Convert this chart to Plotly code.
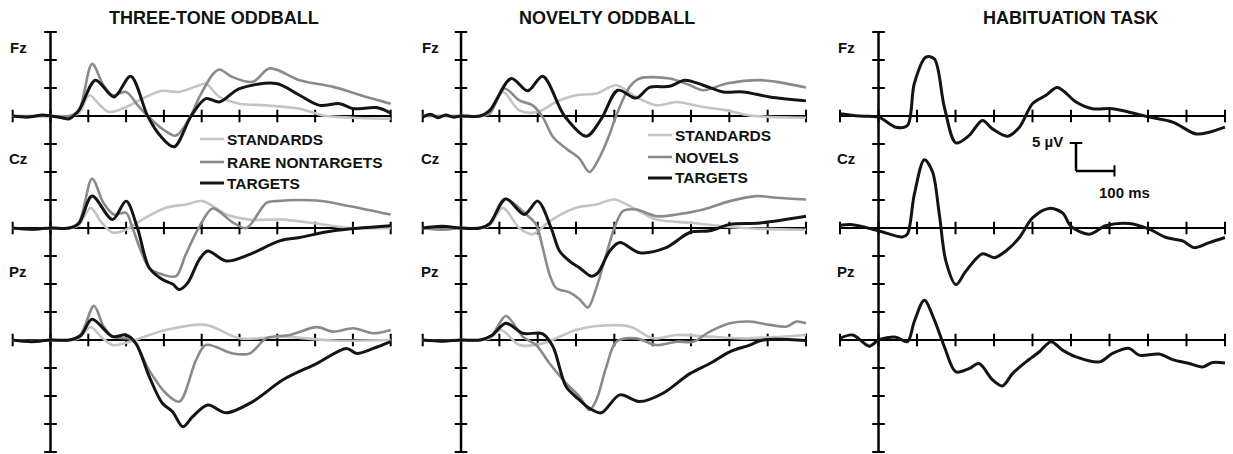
import plotly.graph_objects as go

# ---------------- data (µV, negative-up convention; time in ms) ----------------
PANEL_TITLES = ["THREE-TONE ODDBALL", "NOVELTY ODDBALL", "HABITUATION TASK"]
ELECTRODES = ["Fz", "Cz", "Pz"]
LEGEND_1 = ["STANDARDS", "RARE NONTARGETS", "TARGETS"]
LEGEND_2 = ["STANDARDS", "NOVELS", "TARGETS"]
X_TICKS = [-100, 0, 100, 200, 300, 400, 500, 600, 700, 800, 900]
Y_TICKS = [-15, -10, -5, 0, 5, 10, 15, 20, 25, 30, 35, 40, 45, 50, 55, 60]

# Three-tone oddball
tt_fz_std_t = [-100, -50, 0, 50, 75, 103, 130, 155, 200, 252, 296, 340, 394, 411, 447, 500, 570, 659, 721, 800, 900]
tt_fz_std_v = [0, 0.1, 0, 0, -0.5, -3.7, -2, -0.7, -1.6, -3.4, -4.5, -4.3, -5.5, -5.8, -3.4, -2.2, -1.9, -1.3, -0.1, 0.3, 0.5]
tt_fz_rare_t = [-100, -50, 0, 50, 75, 110, 140, 164, 200, 230, 257, 300, 332, 367, 394, 430, 447, 480, 535, 580, 659, 748, 836, 900]
tt_fz_rare_v = [0, 0, 0, 0, -1, -9.3, -5.5, -3.7, -4.3, -2, 0, 2.5, 3.5, 0.5, -3.4, -7.5, -8.3, -7.0, -6.1, -8.5, -6.4, -5.2, -3.4, -2.2]
tt_fz_tgt_t = [-100, -60, -20, 0, 30, 49, 75, 119, 168, 212, 257, 290, 327, 372, 411, 447, 500, 597, 659, 712, 765, 801, 863, 900]
tt_fz_tgt_v = [0, 0.2, -0.2, 0, 0.3, 0.5, -1, -6.4, -3.4, -7.1, 0, 3.5, 5.5, 0, -3.1, -2.5, -4.9, -5.8, -3.7, -1.9, -2.2, -1.3, -1.5, -0.5]

tt_cz_std_t = [-100, -50, 0, 50, 75, 106, 135, 164, 200, 235, 305, 358, 403, 465, 527, 615, 704, 792, 900]
tt_cz_std_v = [0, 0.3, 0, 0, -0.5, -3.6, -1, 0.8, 0.3, -1.2, -3.6, -4.2, -4.8, -2.4, -1.5, -1.5, -0.8, 0, 0]
tt_cz_rare_t = [-100, -50, 0, 50, 75, 110, 140, 168, 200, 217, 261, 296, 332, 358, 392, 429, 482, 518, 571, 597, 704, 792, 900]
tt_cz_rare_v = [0, 0.3, 0, 0, -1, -8.8, -4.5, -2.4, -2.7, 0, 7.1, 8.3, 8.6, 4.7, 0, -3.5, -1, 0, -4.5, -4.8, -4.9, -3.9, -2.4]
tt_cz_tgt_t = [-100, -50, 0, 50, 75, 110, 164, 200, 230, 261, 296, 323, 341, 363, 394, 416, 465, 527, 606, 659, 748, 900]
tt_cz_tgt_v = [0, 0.2, 0, 0, -0.8, -5.7, -1.5, -4.8, 0, 7.1, 9.2, 10, 11, 9.8, 5.6, 4.1, 5.9, 4.7, 2.3, 1.7, 0.5, -0.4]

tt_pz_std_t = [-100, -50, 0, 50, 75, 106, 135, 164, 200, 305, 411, 500, 615, 748, 900]
tt_pz_std_v = [0, 0.2, 0, 0, -0.3, -2.3, -0.5, 0.9, 0.5, -1.8, -2.7, -0.3, -0.6, 0.1, 0]
tt_pz_rare_t = [-100, -50, 0, 50, 80, 115, 140, 164, 217, 261, 305, 341, 385, 411, 482, 527, 571, 633, 704, 748, 801, 854, 900]
tt_pz_rare_v = [0, 0.3, 0, 0, -1, -6.1, -2.5, -0.6, 0, 5.4, 9.5, 11, 3.6, 0.9, 2.4, 2.4, -0.3, -0.9, -2.3, -1.5, -2.1, -1.2, -1.8]
tt_pz_tgt_t = [-100, -50, 0, 50, 80, 110, 164, 200, 226, 261, 296, 323, 350, 376, 416, 465, 535, 615, 704, 783, 810, 854, 900]
tt_pz_tgt_v = [0, 0.3, 0, 0, -0.8, -3.7, -0.6, -0.9, 0.6, 6.5, 11.3, 12.8, 15.5, 13.7, 11.6, 13, 11, 7.1, 4.2, 1.5, 2.4, 1.5, 0.3]

# Novelty oddball
no_fz_std_t = [-100, -50, 0, 50, 75, 109, 152, 200, 248, 300, 353, 405, 457, 510, 562, 632, 693, 753, 900]
no_fz_std_v = [0, 0, 0, 0, -0.5, -4.3, -1, -0.7, -2.5, -3.7, -4, -5.5, -3.4, -1.9, -2.5, -1.6, -1, -0.1, 0.3]
no_fz_nov_t = [-100, -50, 0, 50, 75, 113, 152, 187, 213, 240, 274, 309, 335, 362, 388, 405, 440, 466, 544, 597, 632, 693, 780, 823, 900]
no_fz_nov_v = [0, 0, 0, 0, -0.5, -4.9, -2.8, -1.9, 0.2, 3.75, 5.8, 7.6, 10, 7.3, 3.2, -0.1, -5.2, -6.7, -6.7, -5.5, -4.6, -5.8, -6.4, -6.1, -5.1]
no_fz_tgt_t = [-100, -80, -60, -40, -20, 0, 50, 75, 131, 174, 213, 270, 327, 366, 409, 457, 492, 544, 584, 632, 684, 736, 806, 900]
no_fz_tgt_v = [0.2, -0.3, 0.3, -0.2, 0.2, 0, 0, -1, -6.7, -4.5, -7.1, 0, 3.6, 0.5, -4.6, -3.2, -5.1, -5.3, -6.4, -5.5, -4.3, -4.3, -3.4, -2.7]

no_cz_std_t = [-100, -50, 0, 50, 75, 109, 152, 187, 231, 300, 353, 400, 457, 510, 605, 736, 900]
no_cz_std_v = [0, 0.3, 0, 0, -0.5, -3.6, 0, 1.1, -1.2, -3.6, -4.2, -5.1, -3.3, -1.5, -0.9, 0, 0.3]
no_cz_nov_t = [-100, -50, 0, 50, 75, 113, 170, 196, 213, 231, 248, 283, 309, 331, 353, 379, 400, 422, 457, 510, 562, 632, 701, 771, 823, 900]
no_cz_nov_v = [0, 0.3, 0, 0, -0.8, -5.2, -2.4, -0.6, 3.5, 8.3, 10.7, 11.5, 12.7, 14.2, 10.7, 4.7, 0, -3, -3.3, -2.1, -2.4, -3.3, -4.8, -5.7, -5.4, -5.1]
no_cz_tgt_t = [-100, -50, 0, 50, 75, 117, 165, 200, 235, 257, 283, 309, 340, 357, 388, 414, 466, 535, 597, 649, 701, 780, 900]
no_cz_tgt_v = [0, -0.3, 0, 0, -0.8, -5.2, -2.4, -4.8, 0, 4.1, 5.9, 7.1, 8.6, 8, 4.1, 2.6, 4.4, 3.5, 0.8, 0.5, -0.65, -0.9, -2.1]

no_pz_std_t = [-100, -50, 0, 50, 75, 105, 152, 213, 300, 353, 440, 501, 562, 649, 736, 900]
no_pz_std_v = [0, 0.2, 0, 0, -0.3, -1.8, 0.9, 0.6, -1.8, -2.5, -2.4, -0.3, -0.9, -0.6, -0.3, -0.9]
no_pz_nov_t = [-100, -50, 0, 50, 80, 117, 161, 196, 231, 274, 309, 335, 353, 379, 405, 457, 510, 562, 606, 649, 701, 753, 806, 850, 875, 900]
no_pz_nov_v = [0, 0.2, 0, 0, -0.8, -4.3, -0.6, 0.9, 4.2, 7.7, 10.1, 12.5, 10.7, 4.8, 0.3, -0.3, 0.9, 0.3, 0.3, -1.5, -3, -3.3, -2.7, -2.4, -3.3, -3]
no_pz_tgt_t = [-100, -50, 0, 50, 80, 117, 161, 213, 240, 274, 309, 335, 366, 414, 466, 527, 597, 649, 701, 753, 788, 900]
no_pz_tgt_v = [0, 0.2, 0, 0, -0.8, -3, -1.2, -1.1, 1.2, 8.3, 10.7, 12.2, 13, 9.8, 11, 9.5, 6, 4.2, 2.1, 0.9, 0, 0.1]

# Habituation task
hb_fz_t = [-100, -50, 0, 45, 75, 93, 123, 145, 171, 201, 235, 270, 296, 335, 366, 400, 435, 465, 513, 556, 608, 668, 703, 764, 825, 859, 900]
hb_fz_v = [-0.4, 0, 0.2, 2, 1.7, -5.8, -10.5, -10.2, -1.6, 4.8, 3.5, 0.8, 2.3, 3.6, 2, -2.2, -3.7, -5.1, -2.5, -1.3, -1.3, -0.4, 0.2, 1.1, 3.2, 2.9, 2]
hb_cz_t = [-100, -67, 0, 62, 75, 93, 119, 140, 158, 175, 201, 227, 270, 301, 331, 366, 400, 443, 478, 500, 547, 590, 651, 703, 747, 790, 820, 859, 900]
hb_cz_v = [-0.5, -0.6, 0.5, 1.6, 1.1, -6, -12.2, -10.1, -2.4, 5.9, 10.1, 7.7, 4.6, 5.3, 4.1, 1.7, -1.8, -3.5, -2.7, -0.3, 1.1, -0.4, -0.8, 0.2, 1.7, 2.3, 3.5, 2.6, 1.7]
hb_pz_t = [-100, -67, -24, 0, 45, 75, 93, 119, 145, 171, 201, 235, 261, 296, 322, 348, 383, 418, 448, 478, 513, 574, 608, 651, 677, 729, 764, 807, 842, 868, 900]
hb_pz_v = [-0.3, -0.9, 1.1, 0, -0.5, 0.3, -3.3, -7.1, -3.6, 1.2, 5.7, 5.1, 4.2, 7.1, 8.2, 6, 3.9, 2.1, 0.3, 1.8, 3, 3.9, 2.4, 1.5, 2.7, 2.5, 3.5, 4.2, 4.8, 4, 4.1]

SCALE_UV = 5
SCALE_MS = 100

# ---------------- styling / layout ----------------
W, H = 1233, 454
FONT = "Liberation Sans, Arial, sans-serif"
C_STD, C_DEV, C_TGT = "#c4c4c4", "#8a8a8a", "#141414"
ROW_STEP = 20  # µV between electrode baselines (4 ticks)
X_PX = [(10.8, 392.6), (420.8, 807.9), (838.1, 1226.9)]
Y_RANGE = [60.3, -15.5]
Y_DOM = [0.3 / H, 1 - 29.2 / H]

fig = go.Figure()
xa = ["x", "x2", "x3"]

# axis cross ticks and baselines
for c in range(3):
    for r in range(3):
        off = r * ROW_STEP
        fig.add_shape(type="line", xref=xa[c], yref="y", x0=X_TICKS[0], x1=X_TICKS[-1],
                      y0=off, y1=off, line=dict(color="#000", width=2), layer="below")
        fig.add_trace(go.Scatter(x=X_TICKS, y=[off] * len(X_TICKS), xaxis=xa[c], yaxis="y",
                                 mode="markers", hoverinfo="skip", cliponaxis=False,
                                 marker=dict(symbol="line-ns", size=9,
                                             line=dict(color="#000", width=2))))
    fig.add_shape(type="line", xref=xa[c], yref="y", x0=0, x1=0, y0=Y_TICKS[0], y1=Y_TICKS[-1],
                  line=dict(color="#000", width=2.5), layer="below")
    fig.add_trace(go.Scatter(x=[0] * len(Y_TICKS), y=Y_TICKS, xaxis=xa[c], yaxis="y",
                             mode="markers", hoverinfo="skip", cliponaxis=False,
                             marker=dict(symbol="line-ew", size=9,
                                         line=dict(color="#000", width=2))))

def wave(t, v, row, col, color, width):
    fig.add_trace(go.Scatter(x=t, y=[row * ROW_STEP + a for a in v], xaxis=xa[col], yaxis="y",
                             mode="lines", line=dict(color=color, width=width, shape="spline",
                                                     smoothing=0.9),
                             hoverinfo="skip"))

series = [
    (0, 0, [(tt_fz_std_t, tt_fz_std_v), (tt_fz_rare_t, tt_fz_rare_v), (tt_fz_tgt_t, tt_fz_tgt_v)]),
    (1, 0, [(tt_cz_std_t, tt_cz_std_v), (tt_cz_rare_t, tt_cz_rare_v), (tt_cz_tgt_t, tt_cz_tgt_v)]),
    (2, 0, [(tt_pz_std_t, tt_pz_std_v), (tt_pz_rare_t, tt_pz_rare_v), (tt_pz_tgt_t, tt_pz_tgt_v)]),
    (0, 1, [(no_fz_std_t, no_fz_std_v), (no_fz_nov_t, no_fz_nov_v), (no_fz_tgt_t, no_fz_tgt_v)]),
    (1, 1, [(no_cz_std_t, no_cz_std_v), (no_cz_nov_t, no_cz_nov_v), (no_cz_tgt_t, no_cz_tgt_v)]),
    (2, 1, [(no_pz_std_t, no_pz_std_v), (no_pz_nov_t, no_pz_nov_v), (no_pz_tgt_t, no_pz_tgt_v)]),
]
styles = [(C_STD, 2.6), (C_DEV, 2.6), (C_TGT, 3.0)]
for k in range(3):
    for row, col, lst in series:
        t, v = lst[k]
        wave(t, v, row, col, *styles[k])
for row, (t, v) in enumerate([(hb_fz_t, hb_fz_v), (hb_cz_t, hb_cz_v), (hb_pz_t, hb_pz_v)]):
    wave(t, v, row, 2, C_TGT, 3.0)

# layout axes
layout_axes = {}
for c in range(3):
    name = "xaxis" if c == 0 else f"xaxis{c + 1}"
    layout_axes[name] = dict(domain=[X_PX[c][0] / W, X_PX[c][1] / W], range=[-105, 905],
                             visible=False, anchor="y", fixedrange=True)
fig.update_layout(**layout_axes)
fig.update_layout(yaxis=dict(domain=Y_DOM, range=Y_RANGE, visible=False, fixedrange=True))

def px(x, y):
    return x / W, 1 - y / H

ann = []
# titles
for cx, title in zip([214, 607, 1070], PANEL_TITLES):
    x, y = px(cx, 18)
    ann.append(dict(x=x, y=y, xref="paper", yref="paper", text=f"<b>{title}</b>", showarrow=False,
                    xanchor="center", yanchor="middle", font=dict(size=18, color="#111", family=FONT)))
# electrode labels
for cx in [18, 430, 846]:
    for ry, lab in zip([47, 159, 271], ELECTRODES):
        x, y = px(cx, ry)
        ann.append(dict(x=x, y=y, xref="paper", yref="paper", text=f"<b>{lab}</b>", showarrow=False,
                        xanchor="center", yanchor="middle", font=dict(size=15, color="#111", family=FONT)))
# legends
for (lx0, lx1, tx, ys, labels) in [(200, 224, 225, [139, 162, 183], LEGEND_1),
                                    (648, 672, 673, [135, 157, 178], LEGEND_2)]:
    for yy, lab, (colr, wd) in zip(ys, labels, styles):
        x0, y0 = px(lx0, yy)
        x1, _ = px(lx1, yy)
        fig.add_shape(type="line", xref="paper", yref="paper", x0=x0, x1=x1, y0=y0, y1=y0,
                      line=dict(color=colr, width=wd))
        xt, _ = px(tx, yy)
        ann.append(dict(x=xt, y=y0, xref="paper", yref="paper", text=f"<b>{lab}</b>", showarrow=False,
                        xanchor="left", yanchor="middle", font=dict(size=15.5, color="#111", family=FONT)))

# scale bar (habituation panel, data coordinates)
sb_x, sb_y = 513, 4.8
fig.add_shape(type="line", xref="x3", yref="y", x0=sb_x, x1=sb_x, y0=sb_y, y1=sb_y + SCALE_UV,
              line=dict(color="#000", width=2.5))
fig.add_shape(type="line", xref="x3", yref="y", x0=sb_x, x1=sb_x + SCALE_MS, y0=sb_y + SCALE_UV,
              y1=sb_y + SCALE_UV, line=dict(color="#000", width=2.5))
fig.add_trace(go.Scatter(x=[sb_x], y=[sb_y], xaxis="x3", yaxis="y", mode="markers", hoverinfo="skip",
                         marker=dict(symbol="line-ew", size=9, line=dict(color="#000", width=2))))
fig.add_trace(go.Scatter(x=[sb_x + SCALE_MS], y=[sb_y + SCALE_UV], xaxis="x3", yaxis="y", mode="markers",
                         hoverinfo="skip", marker=dict(symbol="line-ns", size=8, line=dict(color="#000", width=2))))
ann.append(dict(x=sb_x - 28, y=sb_y - 0.2, xref="x3", yref="y", text=f"<b>{SCALE_UV} µV</b>", showarrow=False,
                xanchor="right", yanchor="middle", font=dict(size=15, color="#111", family=FONT)))
ann.append(dict(x=sb_x + SCALE_MS + 25, y=sb_y + SCALE_UV + 3.8, xref="x3", yref="y",
                text=f"<b>{SCALE_MS} ms</b>", showarrow=False,
                xanchor="center", yanchor="middle", font=dict(size=15, color="#111", family=FONT)))

fig.update_layout(width=W, height=H, margin=dict(l=0, r=0, t=0, b=0), showlegend=False,
                  paper_bgcolor="white", plot_bgcolor="white", annotations=ann,
                  font=dict(family=FONT))
fig.write_html("out.html", config={"displayModeBar": False},
               post_script="document.body.style.margin='0';document.body.style.overflow='hidden';")
